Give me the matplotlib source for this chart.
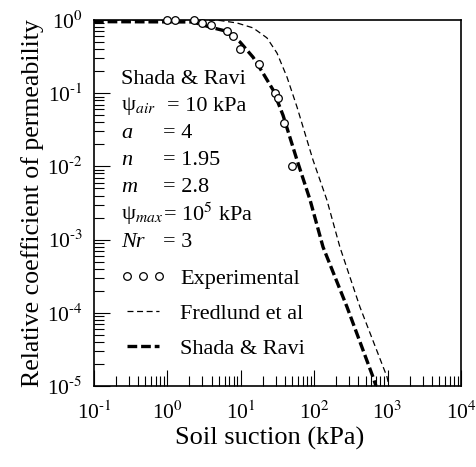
import matplotlib
matplotlib.use('Agg')
import matplotlib.pyplot as plt
from matplotlib.lines import Line2D
from matplotlib.ticker import FuncFormatter
import numpy as np

plt.rcParams['font.family'] = ['Liberation Serif', 'DejaVu Serif']
plt.rcParams['mathtext.fontset'] = 'stix'
plt.rcParams['axes.unicode_minus'] = False
plt.rcParams['lines.scale_dashes'] = False

# experimental points
exp_suction = [0.99, 1.27, 2.30, 2.96, 3.93, 6.49, 7.83, 9.75, 17.7, 29.2, 32.1, 38.8, 49.9]
exp_kr = [1.0, 1.0, 1.0, 0.91, 0.855, 0.71, 0.60, 0.40, 0.25, 0.10, 0.086, 0.039, 0.010]

# Fredlund et al curve
fr_suction = [0.1, 0.58, 2.78, 5.2, 8.9, 14.7, 22.7, 31.1, 42.6, 58.3, 96.4, 149, 224, 420, 982, 1045]
fr_kr = [1.0, 1.0, 1.0, 0.985, 0.91, 0.78, 0.57, 0.354, 0.166, 0.0648, 0.0122, 0.00347, 7.9e-4, 1.2e-4, 1.33e-5, 1e-5]

# Shada & Ravi curve
sr_suction = [0.1, 2.23, 3.8, 6.1, 9.75, 14.7, 20.0, 27.5, 37.6, 58.3, 87.7, 132, 280, 632, 695]
sr_kr = [0.95, 0.94, 0.80, 0.71, 0.50, 0.31, 0.189, 0.111, 0.050, 0.0122, 3.5e-3, 7.9e-4, 1.2e-4, 1.33e-5, 1e-5]

param_names = ['ψ$_{air}$', 'a', 'n', 'm', 'ψ$_{max}$', 'Nr']
param_values = ['= 10 kPa', '= 4', '= 1.95', '= 2.8', '= 10$^5$ kPa', '= 3']

def pow10(v, pos):
    e = int(round(np.log10(v)))
    return r'10$^{\text{%d}}$' % e

fig = plt.figure(figsize=(4.76, 4.67), dpi=100)
ax = fig.add_axes([94/476, 81/467, 367/476, 366/467])

ax.plot(fr_suction, fr_kr, color='black', lw=0.9, dashes=(4.3, 2.6))
ax.plot(sr_suction, sr_kr, color='black', lw=2.4, dashes=(7, 2.8))
ax.plot(exp_suction, exp_kr, 'o', ms=5.5, mfc='white', mec='black', mew=0.9, clip_on=False, zorder=5)

ax.set_xscale('log')
ax.set_yscale('log')
ax.set_xlim(0.1, 1e4)
ax.set_ylim(1e-5, 1)
ax.xaxis.set_major_formatter(FuncFormatter(pow10))
ax.yaxis.set_major_formatter(FuncFormatter(pow10))

for s in ['left', 'bottom', 'top', 'right']:
    ax.spines[s].set_linewidth(1.2)
ax.tick_params(which='both', direction='in', top=False, right=False, width=0.8, labelsize=15.5)
ax.tick_params(which='major', length=11.5, pad=8)
ax.tick_params(axis='x', which='major', pad=11)
ax.tick_params(which='minor', length=7)

ax.set_xlabel('Soil suction (kPa)', fontsize=19)
ax.xaxis.set_label_coords((270 - 94) / 367, -41 / 366)
ax.set_ylabel('Relative coefficient of permeability', fontsize=18.6, labelpad=2)

# parameter block
x0, x1 = (121 - 94) / 367, (163 - 94) / 367
y0, dy = (386 - 79) / 366, 27.2 / 366
ax.text(x0, y0, 'Shada & Ravi', transform=ax.transAxes, fontsize=16, va='center')
for i, (nm, val) in enumerate(zip(param_names, param_values)):
    y = y0 - (i + 1) * dy
    style = 'normal' if 'ψ' in nm else 'italic'
    ax.text(x0, y, nm, transform=ax.transAxes, fontsize=16, va='center', fontstyle=style)
    xv = x1 + (4 / 367 if i == 0 else 0)
    ax.text(xv, y, val, transform=ax.transAxes, fontsize=16, va='center')

handles = [
    Line2D([], [], ls='none', marker='o', ms=5.5, mfc='white', mec='black', mew=0.9),
    Line2D([], [], color='black', lw=0.9, dashes=(4.3, 2.6)),
    Line2D([], [], color='black', lw=2.4, dashes=(7, 2.8)),
]
ax.legend(handles, ['Experimental', 'Fredlund et al', 'Shada & Ravi'],
          loc='upper left', bbox_to_anchor=((120 - 94) / 367, (386 - 268) / 366),
          frameon=False, fontsize=16, numpoints=3, handlelength=2.05,
          handletextpad=0.66, labelspacing=0.66, borderaxespad=0, borderpad=0)

fig.savefig('out.png', dpi=100)
